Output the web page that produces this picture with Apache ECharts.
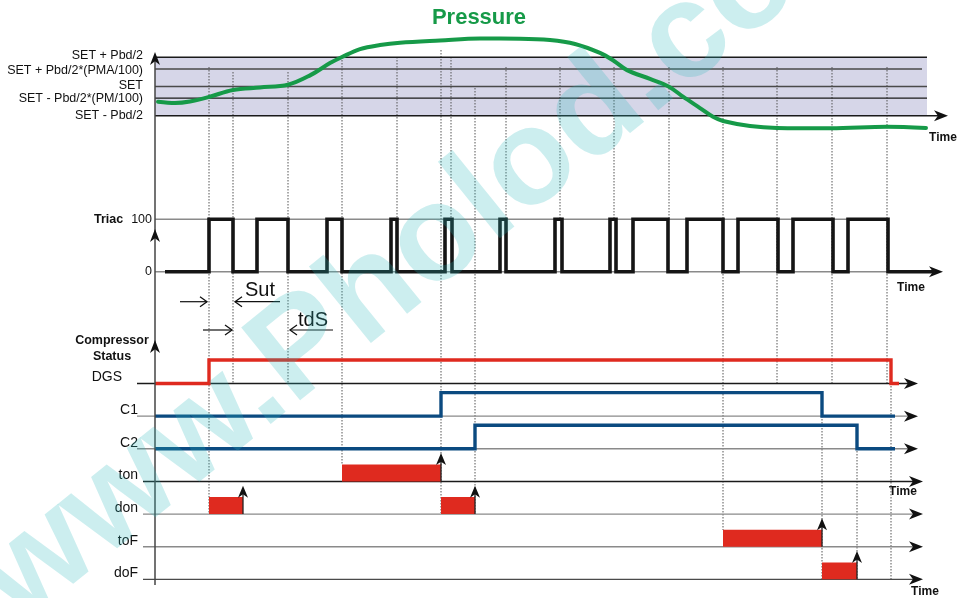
<!DOCTYPE html>
<html>
<head>
<meta charset="UTF-8">
<title>Pressure / Triac / Compressor timing</title>
<script src="https://cdn.jsdelivr.net/npm/echarts@6/dist/echarts.min.js"></script>
<style>
  html, body { margin: 0; padding: 0; background: #fff; }
  #main { width: 966px; height: 598px; }
</style>
</head>
<body>
<div id="main"></div>
<script>
// time is counted from the vertical axis (t = 0)
var pressureTime  = [3, 20, 35, 54, 78, 105, 133, 155, 175, 187, 205, 225, 245, 285, 325, 365, 395, 420, 445, 459, 472, 495, 514, 528, 545, 558, 568, 595, 622, 676, 732, 771];
var pressureValue = [24, 21.7, 24.3, 32, 44, 48.3, 53, 69, 90, 100.5, 114, 121, 125, 128.8, 132, 131.8, 129.6, 122.8, 107.4, 93.7, 78, 63, 49.7, 32.5, 13, -2, -9, -17.6, -21, -21.6, -19, -21];
var bandLevels = [100, 80, 50, 30, 0];
var bandLabels = ['SET + Pbd/2', 'SET + Pbd/2*(PMA/100)', 'SET', 'SET - Pbd/2*(PM/100)', 'SET - Pbd/2'];

var triacEdges = [54, 78, 102, 133, 172, 187, 236, 242, 290, 297, 345, 351, 400, 407, 455, 461, 478, 513, 532, 568, 583, 623, 638, 678, 693, 733];
var triacLevels = [0, 100];

var rowNames = ['doF', 'toF', 'don', 'ton', 'C2', 'C1', 'DGS'];
var dgsEdges = [54, 736];
var c1Edges = [286, 667];
var c2Edges = [320, 702];
var tonBars = [[187, 286]];
var donBars = [[54, 88], [286, 320]];
var toFBars = [[568, 667]];
var doFBars = [[667, 702]];

var guideTimes = [54, 78, 133, 187, 242, 286, 296, 320, 351, 405, 459, 514, 568, 622, 677, 732, 736, 667, 702];
var sutMarks = [[25, 52], [125, 80]];
var tdsMarks = [[48, 77], [178, 135]];

// ---- layout / style ----
var FONT = 'Liberation Sans, Arial, sans-serif';
var RED = '#df2a1f', BLUE = '#0b4a80', GREEN = '#169a48';
var guideSpan = [[67,513],[72,383],[72,383],[57,464],[57,219],[50,513],[57,219],[88,513],[67,219],[67,219],[67,219],[67,219],[67,530],[67,383],[67,383],[67,383],[383,579],[416,579],[448,579]];
var ruleColors = ['#8a8a8a', '#1a1a1a', '#4a4a4a'];
var bandRuleEnd = [772, 767, 772, 772, 793];
var bandRuleColor = [1, 2, 2, 1, 1];
var bandLabelShift = [-2, 1.5, -1, 0.5, 0];
var HIGH = 0.72, BAR_H = 0.52, REACH = 0.87;

function steps(edges, lo, hi, t0, t1) {
  var pts = [[t0, lo]], v = lo;
  edges.forEach(function (e) {
    pts.push([e, v]);
    v = (v === lo) ? hi : lo;
    pts.push([e, v]);
  });
  pts.push([t1, v]);
  return pts;
}
function headRight(x, y, len, half) {
  return [[x, y], [x - len, y - half], [x - len * 0.72, y], [x - len, y + half]];
}
function headUp(x, y, len, half) {
  return [[x, y], [x - half, y + len], [x, y + len * 0.72], [x + half, y + len]];
}

// horizontal rule: [t0, t1, y, colour, arrow, label index (-1 = none)]
function renderRule(params, api) {
  var a = api.coord([api.value(0), api.value(2)]);
  var b = api.coord([api.value(1), api.value(2)]);
  var arrow = api.value(4);
  var kids = [{
    type: 'line',
    shape: { x1: a[0], y1: a[1], x2: arrow ? b[0] - 8 : b[0], y2: b[1] },
    style: { stroke: ruleColors[api.value(3)], lineWidth: 1.4 }
  }];
  if (arrow) kids.push({ type: 'polygon', shape: { points: headRight(b[0], b[1], 14, 5.5) }, style: { fill: '#111' } });
  var li = api.value(5);
  if (li >= 0) {
    kids.push({ type: 'text', x: a[0] - 12, y: a[1] + bandLabelShift[li],
      style: { text: bandLabels[li], fill: '#111', font: '12.5px ' + FONT, align: 'right', verticalAlign: 'middle' } });
  }
  return { type: 'group', children: kids };
}

// timer bar: [t0, t1, row]
function renderBar(params, api) {
  var p0 = api.coord([api.value(0), api.value(2) + BAR_H]);
  var p1 = api.coord([api.value(1), api.value(2)]);
  var tip = api.coord([api.value(1), api.value(2) + REACH]);
  return { type: 'group', children: [
    { type: 'rect', shape: { x: p0[0], y: p0[1], width: p1[0] - p0[0], height: p1[1] - p0[1] }, style: { fill: RED } },
    { type: 'line', shape: { x1: p1[0], y1: p1[1], x2: p1[0], y2: tip[1] + 8 }, style: { stroke: '#222', lineWidth: 1.3 } },
    { type: 'polygon', shape: { points: headUp(p1[0], tip[1], 12, 5) }, style: { fill: '#111' } }
  ]};
}

function renderGuide(params, api) {
  var a = api.coord([api.value(0), api.value(1)]);
  var b = api.coord([api.value(0), api.value(2)]);
  return { type: 'line', shape: { x1: a[0], y1: a[1], x2: b[0], y2: b[1] },
    style: { stroke: '#555', lineWidth: 1, lineDash: [1.5, 1.5] } };
}

// Sut / tdS measure arrows: [from, to, y]
function renderMeasure(params, api) {
  var a = api.coord([api.value(0), api.value(2)]);
  var b = api.coord([api.value(1), api.value(2)]);
  var d = b[0] > a[0] ? -1 : 1;
  return { type: 'group', children: [
    { type: 'line', shape: { x1: a[0], y1: a[1], x2: b[0], y2: b[1] }, style: { stroke: '#111', lineWidth: 1.2 } },
    { type: 'polyline', shape: { points: [[b[0] + d * 7, b[1] - 5], [b[0], b[1]], [b[0] + d * 7, b[1] + 5]] }, style: { stroke: '#111', lineWidth: 1.3, fill: null } }
  ]};
}

function renderAxis(params, api) {
  var top = api.coord([0, api.value(0)]);
  var kids = [];
  if (params.dataIndex === 0) {
    var bot = api.coord([0, 585]);
    kids.push({ type: 'line', shape: { x1: bot[0], y1: bot[1], x2: top[0], y2: top[1] + 6 }, style: { stroke: '#444', lineWidth: 1.5 } });
  }
  kids.push({ type: 'polygon', shape: { points: headUp(top[0], top[1], 13, 5) }, style: { fill: '#111' } });
  return { type: 'group', children: kids };
}

var tx = { type: 'value', min: 0, max: 800, show: false };
var grids = [
  { left: 155, width: 800, top: 33.9, height: 99.3 },
  { left: 155, width: 800, top: 208.8, height: 73.4 },
  { left: 155, width: 800, top: 337.8, height: 248.1 },
  { left: 155, width: 800, top: 0, height: 598 }
];
grids.forEach(function (g) { g.outerBoundsMode = 'none'; g.containLabel = false; });

var pressurePts = pressureTime.map(function (t, i) { return [t, pressureValue[i]]; });
var bandRules = bandLevels.map(function (v, i) { return [0, bandRuleEnd[i], v, bandRuleColor[i], i === 4 ? 1 : 0, i]; });
var allBars = [];
[[tonBars, 3], [donBars, 2], [toFBars, 1], [doFBars, 0]].forEach(function (b) {
  b[0].forEach(function (r) { allBars.push([r[0], r[1], b[1]]); });
});

function lineSeries(grid, data, color, width, extra) {
  var s = { type: 'line', xAxisIndex: grid, yAxisIndex: grid, data: data, symbol: 'none', clip: false, silent: true, z: 4,
    lineStyle: { color: color, width: width, cap: 'butt', join: 'miter' } };
  for (var k in extra) s[k] = extra[k];
  return s;
}

var option = {
  animation: false,
  backgroundColor: '#fff',
  grid: grids,
  xAxis: [tx, tx, tx, tx].map(function (a, i) { return Object.assign({ gridIndex: i }, a); }),
  yAxis: [
    { gridIndex: 0, type: 'value', min: -30, max: 140, show: false },
    { gridIndex: 1, type: 'value', min: -20, max: 120, axisLine: { show: false }, axisTick: { show: false }, splitLine: { show: false },
      axisLabel: { customValues: triacLevels, margin: 3, color: '#111', fontSize: 12.5, fontFamily: FONT, hideOverlap: false,
        formatter: function (v) { return v === 100 ? '{b|Triac}{n|100}' : '0'; },
        rich: { b: { fontWeight: 'bold', fontSize: 12.5, fontFamily: FONT, color: '#111', padding: [0, 8, 0, 0] },
                n: { fontSize: 12.5, fontFamily: FONT, color: '#111' } } } },
    { gridIndex: 2, type: 'value', min: -0.2, max: 7.4, axisLine: { show: false }, axisTick: { show: false }, splitLine: { show: false },
      axisLabel: { customValues: [0, 1, 2, 3, 4, 5, 6], margin: 17, color: '#111', fontSize: 14, fontFamily: FONT, padding: [0, 0, 12, 0], hideOverlap: false,
        formatter: function (v) { return v === 6 ? '{d|DGS}' : rowNames[v]; },
        rich: { d: { fontSize: 14, fontFamily: FONT, color: '#111', padding: [0, 16, 0, 0] } } } },
    { gridIndex: 3, type: 'value', min: 0, max: 598, inverse: true, show: false }
  ],
  series: [
    { type: 'custom', xAxisIndex: 0, yAxisIndex: 0, z: 1, silent: true, data: [[0, 772, 0, 100]],
      renderItem: function (params, api) {
        var a = api.coord([api.value(0), api.value(3)]);
        var b = api.coord([api.value(1), api.value(2)]);
        return { type: 'rect', shape: { x: a[0], y: a[1], width: b[0] - a[0], height: b[1] - a[1] }, style: { fill: '#d6d6e8' } };
      } },
    { type: 'custom', xAxisIndex: 3, yAxisIndex: 3, z: 2, silent: true, renderItem: renderGuide,
      data: guideTimes.map(function (t, i) { return [t, guideSpan[i][0], guideSpan[i][1]]; }) },
    { type: 'custom', xAxisIndex: 0, yAxisIndex: 0, z: 3, silent: true, renderItem: renderRule, data: bandRules },
    lineSeries(0, pressurePts, GREEN, 4, { smooth: 0.35, lineStyle: { color: GREEN, width: 4, cap: 'round' } }),
    { type: 'custom', xAxisIndex: 1, yAxisIndex: 1, z: 3, silent: true, renderItem: renderRule,
      data: [[0, 733, 100, 0, 0, -1], [0, 788, 0, 0, 1, -1]] },
    lineSeries(1, steps(triacEdges, 0, 100, 10, 780), '#151515', 3.6),
    { type: 'custom', xAxisIndex: 2, yAxisIndex: 2, z: 3, silent: true, renderItem: renderRule,
      data: [[-18, 763, 6, 1, 1, -1], [-18, 763, 5, 0, 1, -1], [-18, 763, 4, 0, 1, -1], [-12, 768, 3, 1, 1, -1], [-12, 768, 2, 0, 1, -1], [-12, 768, 1, 0, 1, -1], [-12, 768, 0, 2, 1, -1]] },
    lineSeries(2, steps(dgsEdges, 6, 6 + HIGH, 0, 744), RED, 3.4),
    lineSeries(2, steps(c1Edges, 5, 5 + HIGH, 0, 740), BLUE, 3.4),
    lineSeries(2, steps(c2Edges, 4, 4 + HIGH, 0, 740), BLUE, 3.4),
    { type: 'custom', xAxisIndex: 2, yAxisIndex: 2, z: 5, silent: true, renderItem: renderBar, data: allBars },
    { type: 'custom', xAxisIndex: 3, yAxisIndex: 3, z: 6, silent: true, renderItem: renderAxis, data: [[52], [229], [340]] },
    { type: 'custom', xAxisIndex: 3, yAxisIndex: 3, z: 6, silent: true, renderItem: renderMeasure,
      data: sutMarks.map(function (m) { return [m[0], m[1], 301.7]; }).concat(tdsMarks.map(function (m) { return [m[0], m[1], 330]; })) }
  ],
  graphic: [
    { type: 'text', x: 479, y: 18, style: { text: 'Pressure', fill: GREEN, font: 'bold 22px ' + FONT, align: 'center', verticalAlign: 'middle' } },
    { type: 'text', x: 112, y: 341, style: { text: 'Compressor', fill: '#111', font: 'bold 12.5px ' + FONT, align: 'center', verticalAlign: 'middle' } },
    { type: 'text', x: 112, y: 357, style: { text: 'Status', fill: '#111', font: 'bold 12.5px ' + FONT, align: 'center', verticalAlign: 'middle' } },
    { type: 'text', x: 260, y: 290, style: { text: 'Sut', fill: '#111', font: '20px ' + FONT, align: 'center', verticalAlign: 'middle' } },
    { type: 'text', x: 313, y: 320, style: { text: 'tdS', fill: '#111', font: '20px ' + FONT, align: 'center', verticalAlign: 'middle' } },
    { type: 'text', x: 943, y: 138, style: { text: 'Time', fill: '#111', font: 'bold 12px ' + FONT, align: 'center', verticalAlign: 'middle' } },
    { type: 'text', x: 911, y: 288, style: { text: 'Time', fill: '#111', font: 'bold 12px ' + FONT, align: 'center', verticalAlign: 'middle' } },
    { type: 'text', x: 903, y: 492, style: { text: 'Time', fill: '#111', font: 'bold 12px ' + FONT, align: 'center', verticalAlign: 'middle' } },
    { type: 'text', x: 925, y: 592, style: { text: 'Time', fill: '#111', font: 'bold 12px ' + FONT, align: 'center', verticalAlign: 'middle' } },
    { type: 'text', x: 40, y: 650, rotation: 39 * Math.PI / 180, z: 50, silent: true,
      style: { text: 'www.Pholod.co', fill: 'rgba(40,185,190,0.24)', font: 'bold 136px ' + FONT, align: 'left', verticalAlign: 'bottom' } }
  ]
};

var chart = echarts.init(document.getElementById('main'));
chart.setOption(option);
</script>
</body>
</html>
